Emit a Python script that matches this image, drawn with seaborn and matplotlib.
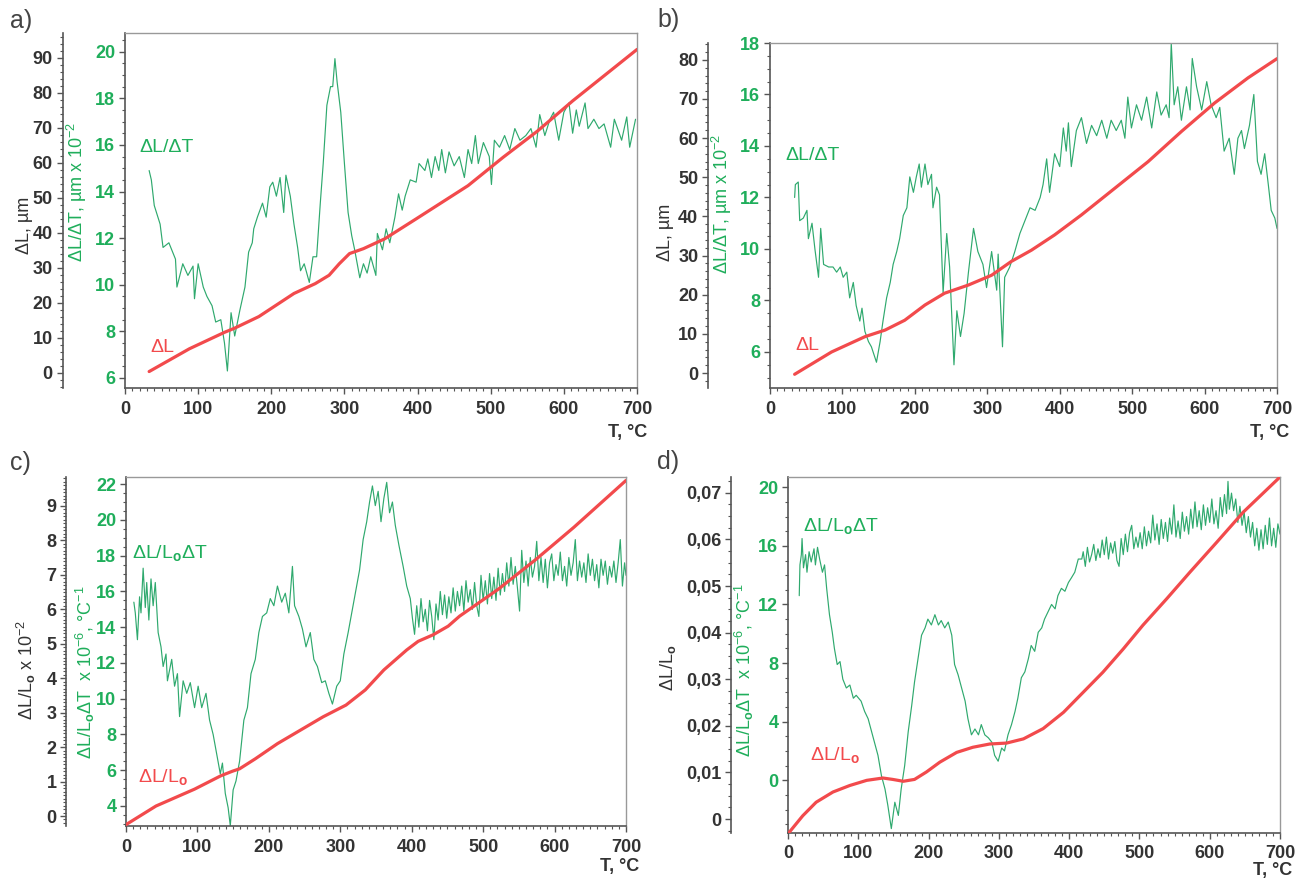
import matplotlib
matplotlib.use('Agg')
import matplotlib.pyplot as plt
import seaborn as sns
from matplotlib.ticker import MultipleLocator, FuncFormatter

# ---- data (T in degC) ----
# panel a
a_red = [(33, 0.4), (88, 6.9), (136, 11.6), (150, 12.8), (183, 16.1), (207, 19.4), (231, 22.7),
         (260, 25.5), (279, 27.9), (293, 31.2), (307, 34.1), (326, 35.5), (355, 38.3), (398, 44.0),
         (469, 53.5), (517, 61.6), (564, 69.1), (612, 77.7), (700, 92.4)]
a_green = [(33, 14.9), (36, 14.5), (40, 13.4), (48, 12.6), (52, 11.6), (60, 11.8), (69, 11.1),
           (71, 9.9), (79, 10.9), (86, 10.4), (93, 10.8), (95, 9.4), (100, 10.9), (107, 9.9),
           (112, 9.5), (119, 9.1), (124, 8.4), (131, 8.5), (136, 7.5), (140, 6.3), (145, 8.8),
           (150, 7.8), (157, 8.9), (164, 9.9), (169, 11.4), (174, 11.8), (176, 12.4), (181, 12.9),
           (188, 13.5), (193, 12.9), (198, 14.2), (202, 14.4), (207, 13.8), (212, 14.6), (217, 13.1),
           (220, 14.7), (226, 13.8), (231, 12.6), (236, 11.6), (240, 10.6), (245, 10.9), (252, 10.1),
           (257, 11.2), (262, 11.2), (267, 13.5), (271, 15.2), (276, 17.7), (281, 18.5), (284, 18.5),
           (287, 19.7), (290, 18.7), (295, 17.4), (300, 15.2), (305, 13.1), (310, 12.1), (314, 11.5),
           (321, 10.3), (326, 10.9), (331, 10.5), (336, 11.2), (343, 10.4), (345, 12.2), (352, 11.5),
           (357, 12.4), (362, 11.8), (369, 12.9), (374, 13.9), (379, 13.2), (383, 13.8), (390, 14.5),
           (398, 14.4), (402, 15.2), (410, 14.9), (414, 15.4), (419, 14.6), (424, 15.5), (429, 14.9),
           (433, 15.8), (438, 14.8), (443, 15.7), (450, 15.1), (457, 15.5), (464, 14.6), (469, 15.8),
           (474, 15.2), (479, 16.4), (483, 15.2), (490, 16.1), (498, 15.5), (501, 14.3), (505, 16.2),
           (512, 15.9), (519, 16.4), (526, 15.8), (533, 16.7), (540, 16.2), (548, 16.4), (555, 16.7),
           (562, 15.9), (567, 17.3), (574, 16.4), (581, 17.1), (586, 17.4), (593, 16.2), (600, 17.4),
           (607, 17.8), (612, 16.5), (617, 17.5), (621, 16.8), (629, 17.8), (633, 16.7), (641, 17.1),
           (648, 16.7), (655, 16.9), (664, 15.9), (669, 17.1), (679, 16.2), (686, 17.2), (690, 15.9),
           (698, 17.1)]

# panel b
b_red = [(34, -0.3), (85, 5.4), (131, 9.3), (159, 11.0), (186, 13.5), (214, 17.4), (241, 20.4),
         (274, 22.5), (306, 25.0), (333, 28.5), (361, 31.4), (393, 35.3), (430, 40.4), (476, 47.2),
         (522, 54.0), (568, 61.7), (614, 69.0), (660, 75.4), (700, 80.3)]
b_green = [(34, 12.0), (35, 12.5), (39, 12.6), (41, 11.1), (46, 11.2), (51, 11.5), (53, 10.4),
           (58, 11.0), (62, 10.0), (67, 8.9), (70, 10.8), (74, 9.4), (81, 9.3), (87, 9.3), (92, 9.1),
           (97, 9.3), (101, 8.9), (106, 9.1), (110, 8.1), (115, 8.7), (119, 7.8), (124, 7.2),
           (127, 7.7), (131, 6.8), (136, 6.4), (140, 6.2), (147, 5.6), (152, 6.4), (156, 7.2),
           (161, 8.1), (166, 8.7), (170, 9.4), (175, 9.9), (179, 10.4), (184, 11.3), (189, 11.6),
           (193, 12.8), (198, 12.2), (202, 12.8), (206, 13.3), (209, 12.4), (214, 13.3), (218, 12.5),
           (223, 12.9), (225, 11.6), (230, 12.4), (234, 12.1), (239, 8.3), (244, 10.6), (248, 9.3),
           (254, 5.5), (258, 7.6), (263, 6.6), (268, 7.5), (274, 9.1), (281, 10.8), (287, 9.9),
           (294, 9.4), (299, 8.5), (306, 9.9), (313, 8.4), (315, 9.8), (321, 6.2), (324, 8.9),
           (331, 9.3), (338, 9.9), (345, 10.6), (352, 11.1), (359, 11.6), (366, 11.5), (373, 12.0),
           (377, 12.5), (382, 13.5), (386, 12.2), (393, 13.7), (400, 13.2), (405, 14.7), (409, 13.8),
           (412, 14.9), (416, 13.2), (423, 14.6), (430, 15.1), (437, 14.1), (444, 14.8), (451, 14.4),
           (458, 15.0), (465, 14.3), (471, 15.0), (478, 14.6), (485, 15.0), (490, 14.3), (494, 15.9),
           (499, 14.7), (506, 15.6), (513, 15.0), (520, 15.9), (527, 14.7), (534, 16.1), (540, 15.2),
           (547, 15.6), (551, 15.1), (554, 18.0), (558, 15.6), (563, 16.3), (568, 15.0), (575, 16.3),
           (580, 15.4), (583, 17.4), (589, 16.3), (596, 15.4), (603, 16.5), (609, 15.6), (616, 15.1),
           (621, 15.5), (627, 13.8), (634, 14.3), (641, 12.9), (646, 14.3), (651, 14.6), (655, 13.9),
           (662, 14.8), (668, 16.0), (673, 13.4), (678, 12.9), (683, 13.7), (688, 12.5), (692, 11.5),
           (697, 11.2), (700, 10.8)]

# panel c
c_red = [(0, -0.25), (42, 0.29), (96, 0.78), (133, 1.17), (149, 1.30), (159, 1.37), (181, 1.66),
         (212, 2.10), (244, 2.49), (276, 2.88), (308, 3.22), (335, 3.66), (361, 4.24), (377, 4.53),
         (393, 4.82), (409, 5.07), (430, 5.26), (451, 5.51), (467, 5.80), (521, 6.58), (574, 7.45),
         (627, 8.38), (700, 9.74)]
c_green = [(11, 15.4), (13, 14.8), (16, 13.3), (19, 15.7), (21, 14.8), (24, 17.3), (27, 15.1),
           (29, 16.5), (32, 14.4), (35, 16.7), (38, 15.2), (41, 16.5), (45, 13.7), (49, 12.9),
           (52, 11.8), (56, 12.5), (58, 11.0), (64, 12.2), (68, 10.7), (72, 11.4), (75, 9.0),
           (80, 11.0), (85, 10.3), (90, 10.9), (96, 9.5), (101, 10.7), (106, 9.5), (112, 10.3),
           (117, 8.8), (122, 8.0), (127, 6.9), (132, 5.8), (135, 6.4), (139, 4.7), (143, 3.9),
           (146, 2.9), (150, 4.9), (154, 5.4), (159, 6.5), (165, 8.8), (170, 9.5), (175, 11.4),
           (181, 12.2), (186, 13.7), (191, 14.6), (197, 14.8), (202, 15.6), (207, 15.2), (212, 16.3),
           (218, 15.4), (223, 15.9), (228, 14.8), (233, 17.4), (236, 15.2), (242, 14.6), (247, 13.9),
           (252, 12.9), (258, 13.7), (263, 12.2), (268, 11.8), (274, 10.9), (279, 11.0), (284, 10.3),
           (289, 9.7), (295, 10.7), (300, 11.0), (305, 12.5), (311, 13.7), (316, 14.8), (321, 15.9),
           (327, 17.2), (332, 18.9), (337, 19.9), (341, 21.0), (345, 21.9), (349, 20.8), (353, 21.6),
           (357, 19.9), (361, 21.2), (365, 22.1), (369, 20.4), (373, 21.0), (377, 19.7), (382, 18.6),
           (388, 17.4), (393, 16.3), (398, 15.6),
           (401, 14.5), (404, 13.6), (407, 15.2), (410, 14.0), (413, 15.6), (416, 14.3), (419, 15.0),
           (422, 13.8), (425, 15.5), (428, 14.6), (431, 13.3), (434, 15.3), (437, 14.4), (440, 16.0),
           (443, 14.7), (446, 15.8), (449, 14.5), (452, 15.7), (455, 14.8), (458, 16.2), (461, 14.9),
           (464, 16.0), (467, 15.2), (470, 16.3), (473, 14.9), (476, 16.6), (479, 15.4), (482, 16.1),
           (485, 15.0), (488, 16.5), (491, 15.2), (494, 14.6), (497, 16.9), (500, 15.5), (503, 16.6),
           (506, 15.3), (509, 17.0), (512, 15.6), (515, 16.8), (518, 15.5), (521, 17.3), (524, 15.8),
           (527, 17.0), (530, 16.0), (533, 17.6), (536, 16.3), (539, 17.9), (542, 16.4), (545, 17.4),
           (548, 16.2), (551, 14.9), (554, 18.3), (557, 16.5), (560, 17.7), (563, 16.3), (566, 17.9),
           (569, 16.8), (572, 17.4), (575, 18.8), (578, 16.6), (581, 17.9), (584, 16.5), (587, 17.8),
           (590, 16.2), (593, 17.6), (596, 18.1), (599, 16.6), (602, 17.5), (605, 16.9), (608, 18.2),
           (611, 16.6), (614, 17.4), (617, 16.3), (620, 17.9), (623, 16.9), (626, 17.6), (629, 18.9),
           (632, 16.6), (635, 17.7), (638, 16.8), (641, 17.6), (644, 16.5), (647, 18.1), (650, 16.9),
           (653, 17.8), (656, 16.6), (659, 17.5), (662, 16.2), (665, 17.8), (668, 16.9), (671, 17.7),
           (674, 16.4), (677, 17.4), (680, 16.8), (683, 17.7), (686, 16.5), (689, 17.6), (692, 18.9),
           (695, 16.3), (698, 17.6), (700, 16.9)]

# panel d
d_red = [(2, -0.0028), (21, 0.0007), (40, 0.0036), (64, 0.0058), (88, 0.0072), (112, 0.0083),
         (135, 0.0088), (149, 0.0085), (164, 0.0081), (180, 0.0085), (197, 0.0101), (216, 0.0122),
         (240, 0.0143), (263, 0.0154), (287, 0.0161), (311, 0.0163), (335, 0.0172), (363, 0.0194),
         (392, 0.0229), (420, 0.0272), (448, 0.0315), (477, 0.0365), (505, 0.0416), (539, 0.0473),
         (572, 0.0530), (610, 0.0594), (648, 0.0659), (700, 0.0734)]
d_green = [(16, 12.6), (17, 14.7), (19, 15.4), (20, 16.5), (22, 14.5), (25, 15.4), (27, 14.2),
           (30, 15.6), (33, 14.9), (37, 15.8), (39, 14.7), (42, 15.9), (45, 15.1), (49, 14.2),
           (52, 14.7), (55, 13.1), (59, 11.3), (63, 10.1), (66, 9.0), (70, 7.9), (74, 8.1), (78, 6.9),
           (83, 6.3), (88, 6.5), (93, 5.6), (97, 5.8), (104, 5.4), (109, 4.7), (114, 4.2), (119, 3.3),
           (123, 2.6), (128, 1.7), (133, 0.3), (138, -0.6), (142, -1.7), (147, -3.3), (152, -1.5),
           (157, -2.4), (161, -0.6), (166, 1.0), (171, 3.3), (176, 5.1), (180, 6.7), (185, 8.3),
           (190, 9.9), (195, 10.4), (199, 11.0), (204, 10.6), (209, 11.3), (214, 10.6), (218, 10.9),
           (223, 10.4), (228, 10.8), (233, 9.9), (237, 7.9), (242, 7.2), (247, 6.3), (252, 5.4),
           (256, 4.2), (261, 3.1), (266, 3.5), (271, 3.1), (275, 3.8), (280, 3.1), (285, 2.9),
           (290, 2.6), (294, 1.7), (299, 1.3), (304, 2.2), (308, 2.0), (313, 3.1), (318, 3.8),
           (323, 4.7), (327, 5.6), (332, 7.0), (337, 7.4), (342, 8.3), (346, 9.2), (351, 8.8),
           (356, 10.1), (361, 10.4), (365, 11.0), (370, 11.5), (375, 12.0), (380, 11.7), (384, 12.6),
           (389, 13.1), (394, 12.9), (399, 13.5), (403, 13.8), (408, 14.2), (413, 15.1), (418, 15.1),
           (420, 15.6), (423, 14.6), (426, 15.9), (429, 14.9), (432, 15.4), (435, 16.1), (438, 15.0),
           (441, 15.8), (444, 15.2), (447, 16.4), (450, 15.4), (453, 16.6), (456, 15.1), (459, 16.2),
           (462, 15.5), (465, 16.3), (468, 15.0), (471, 14.6), (474, 16.5), (477, 15.4), (480, 16.8),
           (483, 15.6), (486, 16.9), (489, 17.4), (492, 15.8), (495, 16.6), (498, 15.9), (501, 16.9),
           (504, 15.8), (507, 17.3), (510, 16.0), (513, 17.0), (516, 16.2), (519, 18.1), (522, 16.4),
           (525, 17.5), (528, 16.1), (531, 17.8), (534, 16.5), (537, 17.6), (540, 16.3), (543, 17.9),
           (546, 16.8), (549, 18.8), (552, 16.6), (555, 17.7), (558, 16.5), (561, 18.3), (564, 17.0),
           (567, 18.0), (570, 16.8), (573, 18.5), (576, 17.2), (579, 19.0), (582, 17.3), (585, 18.4),
           (588, 17.1), (591, 18.8), (594, 17.4), (597, 18.6), (600, 17.6), (603, 19.2), (606, 17.5),
           (609, 18.4), (612, 17.2), (615, 19.3), (618, 18.0), (621, 19.5), (624, 18.2), (626, 20.4),
           (628, 18.5), (631, 19.6), (634, 18.4), (637, 19.2), (640, 17.6), (643, 18.7), (646, 17.4),
           (649, 18.3), (652, 16.9), (655, 18.0), (658, 16.6), (661, 17.6), (664, 16.0), (667, 17.2),
           (670, 15.7), (673, 17.1), (676, 15.8), (679, 17.4), (682, 16.1), (685, 17.9), (688, 16.0),
           (691, 17.2), (694, 15.9), (697, 17.5), (700, 16.8)]

RED = '#f24a4c'
GREEN_LINE = '#2fa96e'
GREEN_TXT = '#1fae5b'
DARK = '#333333'

sns.set_theme(style='white')
plt.rcParams['font.family'] = ['Liberation Sans', 'DejaVu Sans']
plt.rcParams['font.weight'] = 'bold'
plt.rcParams['mathtext.fontset'] = 'custom'
plt.rcParams['mathtext.rm'] = 'Liberation Sans'
plt.rcParams['mathtext.it'] = 'Liberation Sans:italic'
plt.rcParams['mathtext.bf'] = 'Liberation Sans:bold'
plt.rcParams['mathtext.default'] = 'regular'

W, H = 1305, 881
fig = plt.figure(figsize=(W / 100, H / 100), dpi=100)


def px_rect(x0, y0, x1, y1):
    return [x0 / W, 1 - y1 / H, (x1 - x0) / W, (y1 - y0) / H]


def ftext(x, y, s, **kw):
    fig.text(x / W, 1 - y / H, s, **kw)


def panel(rect, green, red, glim, gmaj, gmin, rlim, rmaj, rmin, offset, rfmt=None):
    ax = fig.add_axes(rect)
    tg = [p[0] for p in green]
    vg = [p[1] for p in green]
    tr = [p[0] for p in red]
    vr = [p[1] for p in red]
    sns.lineplot(x=tg, y=vg, ax=ax, color=GREEN_LINE, lw=0.85, estimator=None, sort=False)
    ax.set_xlim(0, 700)
    ax.set_ylim(*glim)
    ax.xaxis.set_major_locator(MultipleLocator(100))
    ax.xaxis.set_minor_locator(MultipleLocator(10))
    ax.yaxis.set_major_locator(MultipleLocator(gmaj))
    ax.yaxis.set_minor_locator(MultipleLocator(gmin))
    ax.tick_params(which='both', direction='out', color='#555555', bottom=True, left=True)
    ax.tick_params(which='major', length=4, width=1)
    ax.tick_params(which='minor', length=2.5, width=0.8)
    ax.tick_params(axis='x', labelsize=13, labelcolor=DARK, pad=5)
    ax.tick_params(axis='y', labelsize=13, labelcolor=GREEN_TXT, pad=3)
    for s in ['top', 'right']:
        ax.spines[s].set_color('#999999')
        ax.spines[s].set_linewidth(1)
    for s in ['left', 'bottom']:
        ax.spines[s].set_color('#555555')
        ax.spines[s].set_linewidth(1.2)
    ax.set_xlabel('')
    ax.set_ylabel('')

    ax2 = ax.twinx()
    sns.lineplot(x=tr, y=vr, ax=ax2, color=RED, lw=2.3, estimator=None, sort=False)
    ax2.set_ylim(*rlim)
    ax2.yaxis.tick_left()
    ax2.spines['left'].set_position(('outward', offset))
    ax2.spines['left'].set_color('#555555')
    ax2.spines['left'].set_linewidth(1.2)
    for s in ['top', 'right', 'bottom']:
        ax2.spines[s].set_visible(False)
    ax2.yaxis.set_major_locator(MultipleLocator(rmaj))
    ax2.yaxis.set_minor_locator(MultipleLocator(rmin))
    if rfmt is not None:
        ax2.yaxis.set_major_formatter(FuncFormatter(rfmt))
    ax2.tick_params(which='both', direction='out', color='#555555', left=True, right=False)
    ax2.tick_params(which='major', length=4, width=1)
    ax2.tick_params(which='minor', length=2.5, width=0.8)
    ax2.tick_params(axis='y', labelsize=13, labelcolor=DARK, pad=3)
    ax2.set_ylabel('')
    return ax, ax2


def comma(v, _):
    if abs(v) < 1e-9:
        return '0'
    return f'{v:.2f}'.replace('.', ',')


panel(px_rect(125, 33, 637, 388), a_green, a_red, (5.57, 20.8), 2, 0.5, (-4.3, 97.1), 10, 2, 45)
panel(px_rect(770, 43, 1277, 388), b_green, b_red, (4.6, 18.0), 2, 0.5, (-3.8, 84.3), 10, 2, 44.6)
panel(px_rect(126, 477, 626, 826), c_green, c_red, (2.88, 22.4), 2, 0.5, (-0.29, 9.84), 1, 0.1, 43)
panel(px_rect(788, 477, 1280, 833), d_green, d_red, (-3.6, 20.7), 4, 1, (-0.003, 0.0734), 0.01,
      0.0025, 41, comma)

norm = dict(fontweight='normal')
lab = dict(fontsize=13, rotation=90, ha='center', va='center', fontweight='normal')

# panel letters
for x, y, s in [(10, 21, 'a)'), (657, 20, 'b)'), (10, 463, 'c)'), (657, 462, 'd)')]:
    ftext(x, y, s, fontsize=18, color='#444444', ha='left', va='center', **norm)

# y-axis titles
ftext(25, 225, 'ΔL, µm', color=DARK, **lab)
ftext(77, 192, 'ΔL/ΔT, µm x 10$^{-2}$', color=GREEN_TXT, **lab)
ftext(665, 232, 'ΔL, µm', color=DARK, **lab)
ftext(722, 204, 'ΔL/ΔT, µm x 10$^{-2}$', color=GREEN_TXT, **lab)
ftext(26, 670, 'ΔL/L$_\\mathrm{o}$ x 10$^{-2}$', color=DARK, **lab)
ftext(85, 672, 'ΔL/L$_\\mathrm{o}$ΔT  x 10$^{-6}$, °C$^{-1}$', color=GREEN_TXT, **lab)
ftext(668, 668, 'ΔL/L$_\\mathrm{o}$', color=DARK, **lab)
ftext(744, 670, 'ΔL/L$_\\mathrm{o}$ΔT  x 10$^{-6}$, °C$^{-1}$', color=GREEN_TXT, **lab)

# x-axis titles
for x, y in [(628, 432), (1270, 432), (620, 866), (1273, 870)]:
    ftext(x, y, 'T, °C', fontsize=13, color=DARK, ha='center', va='center', fontweight='bold')

# curve labels
curve = dict(fontsize=14, ha='left', va='center', fontweight='normal')
ftext(139, 148, 'ΔL/ΔT', color=GREEN_TXT, **curve)
ftext(150, 348, 'ΔL', color=RED, **curve)
ftext(785, 155, 'ΔL/ΔT', color=GREEN_TXT, **curve)
ftext(795, 345, 'ΔL', color=RED, **curve)
ftext(132, 553, 'ΔL/L$_\\mathrm{o}$ΔT', color=GREEN_TXT, **curve)
ftext(138, 777, 'ΔL/L$_\\mathrm{o}$', color=RED, **curve)
ftext(803, 526, 'ΔL/L$_\\mathrm{o}$ΔT', color=GREEN_TXT, **curve)
ftext(810, 755, 'ΔL/L$_\\mathrm{o}$', color=RED, **curve)

fig.savefig('out.png', dpi=100, facecolor='white')
